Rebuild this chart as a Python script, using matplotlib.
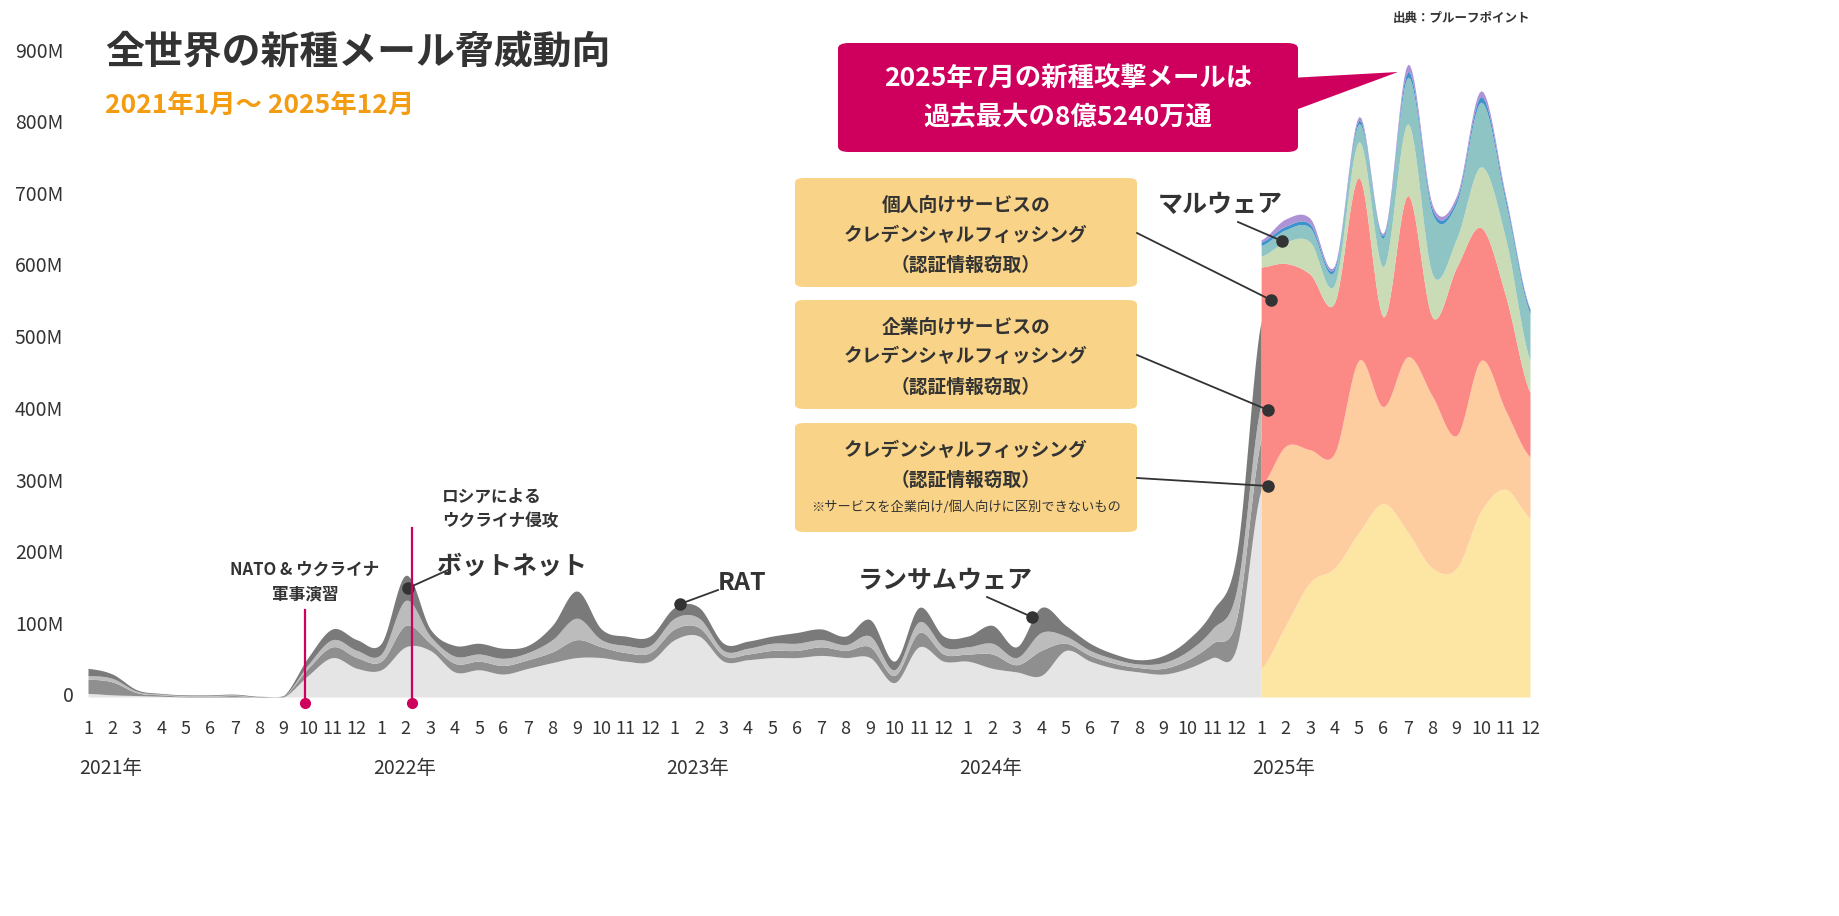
import numpy as np
import matplotlib
matplotlib.use("Agg")
import matplotlib.pyplot as plt
from matplotlib.patches import FancyBboxPatch, Polygon
from matplotlib.lines import Line2D
from matplotlib import transforms

plt.rcParams['font.family'] = ['Noto Sans CJK JP', 'DejaVu Sans']

# ---------------- data (millions) ----------------
years = ["2021年", "2022年", "2023年", "2024年", "2025年"]
month_labels = [str(m) for m in range(1, 13)] * 5
y_ticks = [0, 100, 200, 300, 400, 500, 600, 700, 800, 900]
y_tick_labels = ["0", "100M", "200M", "300M", "400M", "500M", "600M", "700M", "800M", "900M"]

# gray layers, Jan 2021 .. Jan 2025 (49 months)
gray_base = [5, 3, 2, 1, 0, 0, 0, 0, 0, 30, 55, 40,
             38, 70, 65, 35, 38, 32, 40, 48, 55, 55, 50, 50,
             80, 85, 50, 52, 55, 55, 58, 55, 55, 20, 70, 50,
             50, 40, 35, 30, 65, 50, 40, 35, 32, 40, 55, 70,
             290]
gray_mid = [20, 18, 4, 2, 1, 1, 2, 0, 1, 10, 15, 15,
            12, 30, 10, 12, 12, 12, 12, 15, 25, 15, 12, 12,
            15, 12, 8, 8, 10, 10, 12, 10, 15, 10, 20, 10,
            10, 20, 10, 35, 10, 8, 7, 6, 8, 12, 20, 40,
            70]
gray_light = [5, 5, 2, 1, 1, 1, 1, 0, 0, 5, 10, 10,
              10, 35, 10, 10, 10, 10, 10, 17, 30, 10, 10, 10,
              15, 13, 7, 8, 10, 10, 10, 8, 15, 8, 15, 10,
              10, 15, 10, 25, 10, 7, 6, 5, 8, 12, 20, 40,
              50]
gray_dark = [10, 6, 2, 1, 1, 1, 1, 1, 1, 10, 15, 15,
             15, 35, 10, 15, 15, 14, 10, 20, 38, 15, 13, 13,
             15, 15, 10, 10, 10, 15, 15, 12, 23, 12, 20, 15,
             15, 25, 15, 35, 15, 10, 7, 6, 10, 16, 25, 50,
             115]

# coloured layers, Jan 2025 .. Dec 2025
cred_generic = [40, 100, 160, 180, 230, 270, 230, 180, 180, 260, 290, 250]
cred_generic2 = [255, 250, 185, 160, 240, 135, 245, 240, 185, 210, 110, 85]
cred_corporate = [305, 255, 245, 210, 255, 125, 225, 110, 235, 185, 160, 90]
cred_personal = [15, 30, 45, 25, 50, 70, 100, 60, 40, 85, 80, 45]
other_teal = [15, 17, 20, 20, 25, 40, 65, 85, 50, 90, 50, 65]
other_blue = [5, 5, 5, 4, 5, 4, 8, 6, 5, 8, 6, 5]
malware = [3, 10, 8, 3, 5, 3, 10, 6, 5, 8, 4, 2]

gray_layers = [gray_base, gray_mid, gray_light, gray_dark]
gray_colors = ["#e5e5e5", "#8f8f8f", "#bcbcbc", "#7a7a7a"]
col_layers = [cred_generic, cred_generic2, cred_corporate, cred_personal, other_teal, other_blue, malware]
col_colors = ["#fde5a3", "#fdcc9f", "#fb8a86", "#c9dcb6", "#8ec4c4", "#3f93cc", "#ad93d6"]


def smooth(xs, ys, n=12):
    xs = np.asarray(xs, float); ys = np.asarray(ys, float)
    p = np.concatenate([[ys[0]], ys, [ys[-1]]])
    out_x, out_y = [], []
    for i in range(len(ys) - 1):
        p0, p1, p2, p3 = p[i], p[i + 1], p[i + 2], p[i + 3]
        t = np.linspace(0, 1, n, endpoint=False)
        yy = 0.5 * ((2 * p1) + (-p0 + p2) * t + (2 * p0 - 5 * p1 + 4 * p2 - p3) * t ** 2
                    + (-p0 + 3 * p1 - 3 * p2 + p3) * t ** 3)
        out_x.append(xs[i] + (xs[i + 1] - xs[i]) * t)
        out_y.append(yy)
    out_x.append([xs[-1]]); out_y.append([ys[-1]])
    return np.concatenate(out_x), np.clip(np.concatenate(out_y), 0, None)


W, H = 1840, 916
fig = plt.figure(figsize=(W / 100, H / 100), dpi=100)
ax = fig.add_axes([88 / W, (H - 697) / H, 1442 / W, (697 - 52) / H])
ax.set_xlim(0, 59)
ax.set_ylim(0, 900)
ax.axis("off")

def draw_stack(x0, layers, colors):
    xs = np.arange(x0, x0 + len(layers[0]))
    base = None
    for lay, c in zip(layers, colors):
        sx, sy = smooth(xs, lay)
        if base is None:
            base = np.zeros_like(sy)
        ax.fill_between(sx, base, base + sy, color=c, lw=0)
        base = base + sy

draw_stack(0, gray_layers, gray_colors)
draw_stack(48, col_layers, col_colors)

tr = transforms.blended_transform_factory(fig.transFigure, ax.transData)
for v, lab in zip(y_ticks, y_tick_labels):
    if v == 0:
        fig.text(68 / W, v, lab, transform=tr, ha="center", va="center", fontsize=14, color="#333")
    else:
        fig.text(15 / W, v, lab, transform=tr, ha="left", va="center", fontsize=14, color="#333")
trx = transforms.blended_transform_factory(ax.transData, fig.transFigure)
for i, lab in enumerate(month_labels):
    fig.text(i, 1 - 729 / H, lab, transform=trx, ha="center", va="center", fontsize=13, color="#333")
for k, yl in enumerate(years):
    fig.text(k * 12 - 0.35, 1 - 768 / H, yl, transform=trx, ha="left", va="center", fontsize=14, color="#333")

def P(x, y):
    return (x / W, 1 - y / H)

def ftext(x, y, s, **kw):
    fig.text(*P(x, y), s, **kw)

def fline(pts, color="#333", lw=1.3):
    xs = [p[0] / W for p in pts]; ys = [1 - p[1] / H for p in pts]
    fig.add_artist(Line2D(xs, ys, color=color, lw=lw))

def fdot(x, y, color="#333", ms=8):
    fig.add_artist(Line2D([x / W], [1 - y / H], marker="o", color=color, ms=ms, lw=0))

ftext(105, 52, "全世界の新種メール脅威動向", fontsize=28, fontweight="bold", color="#333", va="center")
ftext(105, 105, "2021年1月〜 2025年12月", fontsize=19, fontweight="bold", color="#f39c12", va="center")
ftext(1530, 18, "出典：プルーフポイント", fontsize=9, fontweight="bold", color="#333", ha="right", va="center")

mag = "#cf005d"
fig.add_artist(Polygon([P(1290, 78), P(1398, 72), P(1290, 112)], closed=True, color=mag, lw=0))
fig.add_artist(FancyBboxPatch(P(838, 152), (1298 - 838) / W, (152 - 43) / H,
                              boxstyle="round,pad=0,rounding_size=0.006", color=mag, lw=0))
ftext(1068, 78, "2025年7月の新種攻撃メールは", fontsize=19, fontweight="bold", color="white", ha="center", va="center")
ftext(1068, 118, "過去最大の8億5240万通", fontsize=19, fontweight="bold", color="white", ha="center", va="center")

box_col = "#f9d488"
boxes = [
    (178, ["個人向けサービスの", "クレデンシャルフィッシング", "（認証情報窃取）"], (1271, 300)),
    (300, ["企業向けサービスの", "クレデンシャルフィッシング", "（認証情報窃取）"], (1268, 410)),
    (423, ["クレデンシャルフィッシング", "（認証情報窃取）"], (1268, 486)),
]
for top, lines, dot in boxes:
    fig.add_artist(FancyBboxPatch(P(795, top + 109), (1137 - 795) / W, 109 / H,
                                  boxstyle="round,pad=0,rounding_size=0.005", color=box_col, lw=0))
    for j, s in enumerate(lines):
        ftext(966, top + 27 + j * 30, s, fontsize=13.5, fontweight="bold", color="#333", ha="center", va="center")
    fline([(1137, top + 55), dot])
    fdot(*dot)
ftext(966, 507, "※サービスを企業向け/個人向けに区別できないもの", fontsize=9.5, color="#333", ha="center", va="center")

ftext(1220, 205, "マルウェア", fontsize=18, fontweight="bold", color="#333", ha="center", va="center")
fline([(1238, 222), (1282, 241)]); fdot(1282, 241)
ftext(512, 567, "ボットネット", fontsize=18, fontweight="bold", color="#333", ha="center", va="center")
fline([(448, 570), (408, 588)]); fdot(408, 588)
ftext(742, 583, "RAT", fontsize=18, fontweight="bold", color="#333", ha="center", va="center")
fline([(718, 590), (680, 604)]); fdot(680, 604)
ftext(945, 580, "ランサムウェア", fontsize=18, fontweight="bold", color="#333", ha="center", va="center")
fline([(987, 597), (1032, 617)]); fdot(1032, 617)

fline([(305, 610), (305, 703)], color=mag, lw=1.6); fdot(305, 703, color=mag, ms=7)
fline([(412, 528), (412, 703)], color=mag, lw=1.6); fdot(412, 703, color=mag, ms=7)
ftext(305, 570, "NATO & ウクライナ", fontsize=12, fontweight="bold", color="#333", ha="center", va="center")
ftext(305, 594, "軍事演習", fontsize=12, fontweight="bold", color="#333", ha="center", va="center")
ftext(442, 497, "ロシアによる", fontsize=12, fontweight="bold", color="#333", ha="left", va="center")
ftext(442, 521, "ウクライナ侵攻", fontsize=12, fontweight="bold", color="#333", ha="left", va="center")

fig.savefig("out.png", dpi=100, facecolor="white")
